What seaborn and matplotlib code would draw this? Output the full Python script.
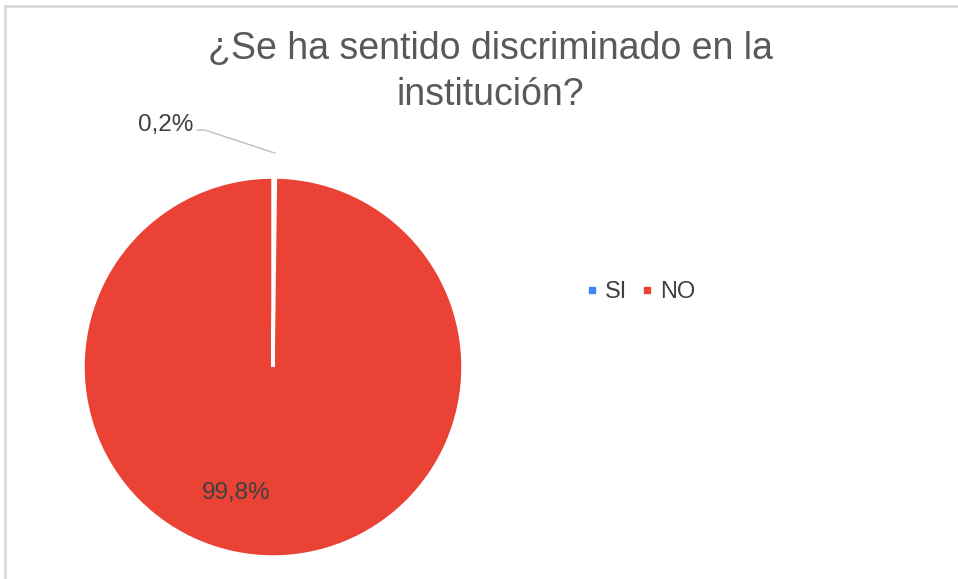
import matplotlib
matplotlib.use("Agg")
import matplotlib.pyplot as plt
from matplotlib.lines import Line2D
import seaborn as sns

categories = ["SI", "NO"]
values = [0.2, 99.8]
value_labels = ["0,2%", "99,8%"]
title = "¿Se ha sentido discriminado en la\ninstitución?"

sns.set_theme(style="white")
plt.rcParams["font.family"] = ["Liberation Sans", "DejaVu Sans"]

colors = sns.color_palette(["#4285F4", "#EA4335"])

W, H = 958, 579
fig = plt.figure(figsize=(W / 100, H / 100), dpi=100)
cx, cy, r = 273, 367, 190
ax = fig.add_axes([(cx - r) / W, (H - cy - r) / H, 2 * r / W, 2 * r / H])
wedges, _ = ax.pie(values, colors=colors, startangle=90, counterclock=False,
                   wedgeprops=dict(edgecolor="white", linewidth=2.5))
ax.set_aspect("equal")
ax.set_xlim(-1, 1)
ax.set_ylim(-1, 1)
ax.axis("off")

# labels
ax.text(-0.42, 1.274, value_labels[0], ha="right", va="center", fontsize=17.5,
        color="#404040", clip_on=False)
ax.plot([-0.40, -0.358, 0.01], [1.247, 1.247, 1.126], color="#bfbfbf", lw=1,
        clip_on=False)
ax.text(-0.195, -0.663, value_labels[1], ha="center", va="center", fontsize=17.5,
        color="#404040")

fig.text(490 / W, 1 - 72 / H, title, ha="center", va="center", fontsize=27,
         color="#595959", linespacing=1.33)

handles = [Line2D([], [], marker="s", linestyle="none", markersize=5,
                  markerfacecolor=c, markeredgecolor=c) for c in colors]
fig.legend(handles, categories, loc="center left", bbox_to_anchor=(565 / W, 1 - 292 / H),
           ncol=2, frameon=False, fontsize=17, handlelength=0.5, handletextpad=0.3,
           columnspacing=0.6, labelcolor="#404040")

fig.add_artist(Line2D([5 / W, 1], [1 - 6 / H, 1 - 6 / H], color="#d9d9d9", lw=2,
                      transform=fig.transFigure))
fig.add_artist(Line2D([5 / W, 5 / W], [0, 1 - 6 / H], color="#d9d9d9", lw=2,
                      transform=fig.transFigure))

fig.savefig("out.png", dpi=100, facecolor="white")
